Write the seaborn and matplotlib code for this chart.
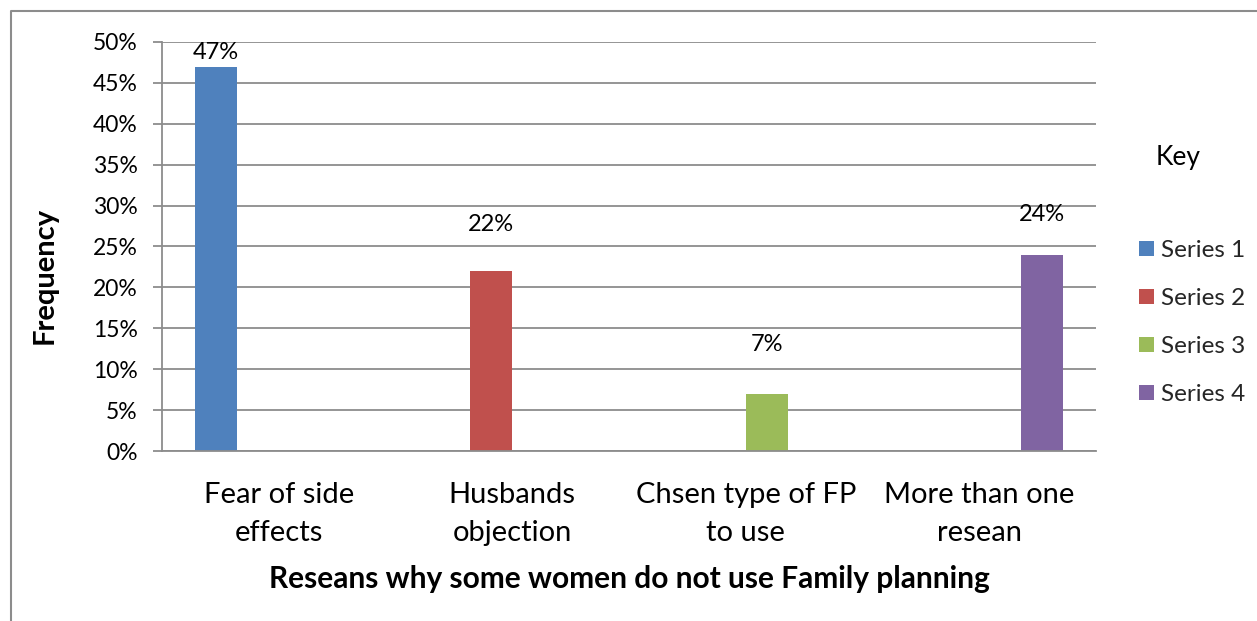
import matplotlib
matplotlib.use("Agg")
import matplotlib.pyplot as plt
import seaborn as sns
import pandas as pd
from matplotlib.lines import Line2D
from matplotlib.ticker import PercentFormatter, MultipleLocator

categories = ["Fear of side\neffects", "Husbands\nobjection", "Chsen type of FP\nto use", "More than one\nresean"]
series = ["Series 1", "Series 2", "Series 3", "Series 4"]
values = [0.47, 0.22, 0.07, 0.24]
value_labels = ["47%", "22%", "7%", "24%"]
colors = ["#4F81BD", "#C0504D", "#9BBB59", "#8064A2"]
label_offsets_px = [14, 47, 49, 40]

df = pd.DataFrame({"category": categories, "series": series, "value": values})

sns.set_theme(style="white")
plt.rcParams["font.family"] = ["Lato", "DejaVu Sans"]

W, H = 1257, 621
fig = plt.figure(figsize=(W / 100, H / 100), dpi=100)
ax = fig.add_axes([162 / W, 1 - 451 / H, (1096 - 162) / W, (451 - 42) / H])

sns.barplot(data=df, x="category", y="value", hue="series", hue_order=series,
            order=categories, palette=colors, width=0.72, gap=0, dodge=True,
            saturation=1, ax=ax, legend=True, edgecolor="none")

ax.set_ylim(0, 0.5)
ax.set_xlim(-0.5, 3.5)
ax.yaxis.set_major_locator(MultipleLocator(0.05))
ax.yaxis.set_major_formatter(PercentFormatter(1.0, decimals=0))
grid_c = "#8C8C8C"
ax.grid(axis="y", color=grid_c, linewidth=1.3)
ax.set_axisbelow(True)
for s in ["top", "right"]:
    ax.spines[s].set_visible(False)
ax.spines["left"].set_color(grid_c)
ax.spines["left"].set_linewidth(1.3)
ax.spines["bottom"].set_color(grid_c)
ax.spines["bottom"].set_linewidth(1.3)
ax.tick_params(axis="y", left=True, length=6.5, width=1.3, color=grid_c, pad=11,
               labelsize=16.5, labelcolor="#000000")
ax.tick_params(axis="x", bottom=False, labelsize=21, pad=16.5, labelcolor="#000000")
for t in ax.get_xticklabels():
    t.set_linespacing(1.55)
ax.set_ylabel("")
ax.set_xlabel("Reseans why some women do not use Family planning",
              fontsize=21.5, fontweight="bold", labelpad=14, color="#000000")

fig.text(45 / W, 1 - 275 / H, "Frequency", rotation=90, fontsize=21,
         fontweight="bold", ha="center", va="center", color="#000000")

# data labels
for c, lab, off in zip(ax.containers, value_labels, label_offsets_px):
    for bar in c:
        if bar.get_height() > 0:
            ax.annotate(lab, (bar.get_x() + bar.get_width() / 2, bar.get_height()),
                        xytext=(0, off * 0.72), textcoords="offset points",
                        ha="center", va="center", fontsize=17, color="#000000")

# legend
handles, labels = ax.get_legend_handles_labels()
ax.legend(handles, labels, loc="upper left", bbox_to_anchor=(1139 / W, 1 - 240 / H),
          bbox_transform=fig.transFigure, frameon=False, fontsize=17.5,
          borderaxespad=0, borderpad=0,
          handlelength=0.6, handleheight=0.6, handletextpad=0.3, labelspacing=1.11)
fig.text(1178 / W, 1 - 158 / H, "Key", fontsize=19, ha="center", va="center", color="#000000")

# outer frame (left and top edges)
fig.add_artist(Line2D([11 / W, 11 / W, 1.0], [0.0, 1 - 11 / H, 1 - 11 / H],
                      transform=fig.transFigure, color="#8C8C8C", linewidth=1.5))

fig.savefig("out.png", dpi=100, facecolor="white")
